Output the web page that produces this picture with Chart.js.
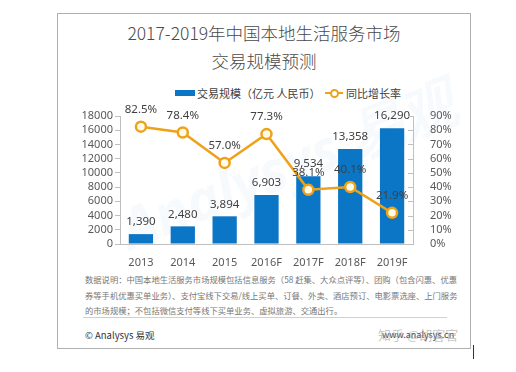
<!DOCTYPE html>
<html><head><meta charset="utf-8">
<script src="https://cdn.jsdelivr.net/npm/chart.js@4"></script>
<style>
html,body{margin:0;padding:0;background:#fff;width:516px;height:372px;overflow:hidden;font-family:"Noto Sans CJK SC","Noto Sans",sans-serif;}
#frame{position:absolute;left:57px;top:13px;width:414px;height:336px;border:1px solid #b0b0b0;box-sizing:border-box;}
.t{position:absolute;left:57px;width:414px;text-align:center;color:#4a4a4a;font-size:17.5px;font-weight:300;white-space:nowrap;}
#wm{position:absolute;left:110px;top:125px;font-family:"Open Sans",sans-serif;font-size:56px;font-weight:bold;font-style:italic;color:rgba(60,140,210,0.04);transform:rotate(-22deg);white-space:nowrap;}
#cwrap{position:absolute;left:60px;top:100px;width:410px;height:170px;}
.lg{position:absolute;font-size:11px;color:#404040;white-space:nowrap;top:85px;line-height:16px;}
.note{position:absolute;left:85px;width:360px;font-size:8.3px;color:#777;white-space:nowrap;line-height:12px;}
.just{text-align:justify;text-align-last:justify;}
</style></head><body>
<div id="frame"></div>
<div class="t" style="top:20px;">2017-2019年中国本地生活服务市场</div>
<div class="t" style="top:48px;">交易规模预测</div>
<div id="wm">Analysys 易观</div>
<div style="position:absolute;left:175px;top:90px;width:20px;height:6px;background:#0B76C6;"></div>
<div class="lg" style="left:197px;">交易规模（亿元 人民币）</div>
<div style="position:absolute;left:325px;top:92px;width:18px;height:2px;background:#EDA21A;"></div>
<div style="position:absolute;left:330px;top:89px;width:5px;height:5px;border:2px solid #EDA21A;border-radius:50%;background:#fff;"></div>
<div class="lg" style="left:346px;">同比增长率</div>
<div id="cwrap"><canvas id="c" width="410" height="170"></canvas></div>
<div class="note just" style="top:273px;">数据说明：中国本地生活服务市场规模包括信息服务（58 赶集、大众点评等）、团购（包含闪惠、优惠</div>
<div class="note just" style="top:289px;">券等手机优惠买单业务）、支付宝线下交易/线上买单、订餐、外卖、酒店预订、电影票选座、上门服务</div>
<div class="note" style="top:304px;">的市场规模；不包括微信支付等线下买单业务、虚拟旅游、交通出行。</div>
<div style="position:absolute;left:83px;top:317px;width:364px;height:1px;background:#d0d0d0;"></div>
<div style="position:absolute;left:85px;top:328px;font-size:9.5px;color:#333;white-space:nowrap;">© Analysys 易观</div>
<div style="position:absolute;left:382px;top:328px;font-size:9px;color:#444;white-space:nowrap;">www.analysys.cn</div>
<div style="position:absolute;left:378px;top:325px;font-size:13px;color:rgba(150,150,150,0.55);white-space:nowrap;">知乎 @胡客官</div>
<div style="position:absolute;left:473px;top:345px;width:1px;height:14px;background:#333;"></div>
<script>
const categories = ["2013","2014","2015","2016F","2017F","2018F","2019F"];
const scaleValues = [1390,2480,3894,6903,9534,13358,16290];
const growthRates = [82.5,78.4,57.0,77.3,38.1,40.1,21.9];
const leftTicks = [0,2000,4000,6000,8000,10000,12000,14000,16000,18000];
const rightTicks = [0,10,20,30,40,50,60,70,80,90];

const labelPlugin = {
  id:'labels',
  afterDatasetsDraw(chart){
    const ctx = chart.ctx;
    ctx.save();
    ctx.font = '11.5px "Noto Sans","Noto Sans CJK SC",sans-serif';
    ctx.fillStyle = '#404040';
    ctx.textAlign = 'center';
    ctx.textBaseline = 'middle';
    const mBar = chart.getDatasetMeta(1);
    mBar.data.forEach((b,i)=>{
      ctx.fillText(scaleValues[i].toLocaleString('en-US'), b.x, b.y-12);
    });
    const mLine = chart.getDatasetMeta(0);
    mLine.data.forEach((p,i)=>{
      ctx.fillText(growthRates[i].toFixed(1)+'%', p.x, p.y-17);
    });
    const ys = chart.scales.y1;
    ctx.strokeStyle = '#bfbfbf';
    ctx.lineWidth = 1;
    rightTicks.forEach(v=>{
      const y = Math.round(ys.getPixelForValue(v))+0.5;
      ctx.beginPath();ctx.moveTo(ys.left-5,y);ctx.lineTo(ys.left,y);ctx.stroke();
    });
    ctx.restore();
  }
};

const tickFont = {size:11,family:'"Noto Sans",sans-serif'};
new Chart(document.getElementById('c'),{
  data:{
    labels:categories,
    datasets:[
      {type:'line',label:'同比增长率',data:growthRates,yAxisID:'y1',borderColor:'#EDA21A',borderWidth:2.5,
       pointBackgroundColor:'#fffbe8',pointBorderColor:'#EDA21A',pointBorderWidth:2.5,pointRadius:5,tension:0,order:0},
      {type:'bar',label:'交易规模（亿元 人民币）',data:scaleValues,yAxisID:'y',backgroundColor:'#0B76C6',
       categoryPercentage:0.58,barPercentage:1,order:1}
    ]
  },
  options:{
    responsive:false,animation:false,
    layout:{padding:{top:16,left:0,right:0,bottom:0}},
    plugins:{legend:{display:false},tooltip:{enabled:false}},
    scales:{
      x:{grid:{display:false},border:{display:true,color:'#bfbfbf'},
         ticks:{color:'#595959',font:tickFont,padding:4,autoSkip:false,maxRotation:0},
         afterFit(s){s.height=26;}},
      y:{position:'left',min:0,max:18000,
         afterBuildTicks(s){s.ticks=leftTicks.map(v=>({value:v}));},
         grid:{drawOnChartArea:false,tickLength:5,color:'#bfbfbf'},border:{display:true,color:'#bfbfbf'},
         ticks:{color:'#595959',font:tickFont,padding:2,autoSkip:false,callback:v=>String(v)},
         afterFit(s){s.width=60;}},
      y1:{position:'right',min:0,max:90,
         afterBuildTicks(s){s.ticks=rightTicks.map(v=>({value:v}));},
         grid:{display:false},border:{display:true,color:'#bfbfbf'},
         ticks:{color:'#595959',font:tickFont,padding:9,autoSkip:false,callback:v=>v+'%'},
         afterFit(s){s.width=57;}}
    }
  },
  plugins:[labelPlugin]
});
</script>
</body></html>
